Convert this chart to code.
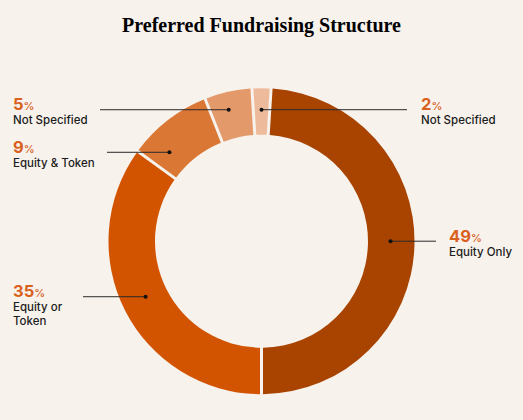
<html lang="en">
  <head>
    <meta charset="UTF-8" />
    <style>
      body {
        margin: 0;
        background-color: #f7f2ec;
      }
      svg {
        display: block;
      }
      .title {
        font-family: "Liberation Serif", serif;
        font-weight: bold;
      }
      .pct {
        font-family: Inter, sans-serif;
        font-weight: 700;
        fill: #d9601d;
      }
      .lbl {
        font-family: Inter, sans-serif;
        font-weight: 500;
        fill: #1c1c1c;
      }
    </style>
    <title>Preferred Fundraising Structure</title>
  </head>
  <body>
    <script src="https://cdn.jsdelivr.net/npm/d3@7"></script>
    <script>
      // data, in the order drawn clockwise from the top
      const categories = ["Not Specified", "Equity Only", "Equity or Token", "Equity & Token", "Not Specified"];
      const values = [2, 49, 35, 9, 5];
      const labelLines = [["Not Specified"], ["Equity Only"], ["Equity or", "Token"], ["Equity & Token"], ["Not Specified"]];
      const colors = ["#edbb9b", "#a84300", "#d35400", "#db7734", "#e4996a"];

      // annotation layout
      const labelX = [421, 449, 13, 13, 13];
      const lineEndX = [407, 436, 83, 107, 100];
      const dotNudgeDeg = [0, -1.8, 1.4, -8.2, -1.4];
      const dotNudgeR = [1.5, -1, -1.5, -2, 5.5];

      const width = 523;
      const height = 420;
      const cx = 261.5;
      const cy = 241.2;
      const outerR = 153;
      const innerR = 106.5;
      const dotR = 130;

      const total = d3.sum(values);
      const start = -Math.PI * values[0] / total;

      const pie = d3
        .pie()
        .sort(null)
        .value(d => d)
        .startAngle(start)
        .endAngle(start + 2 * Math.PI);

      const arc = d3
        .arc()
        .innerRadius(innerR)
        .outerRadius(outerR)
        .padAngle(0.02)
        .padRadius(150);

      const svg = d3
        .select("body")
        .append("svg")
        .attr("width", width)
        .attr("height", height);

      svg
        .append("rect")
        .attr("width", width)
        .attr("height", height)
        .attr("fill", "#f7f2ec");

      svg
        .append("text")
        .attr("class", "title")
        .attr("x", width / 2)
        .attr("y", 32)
        .attr("text-anchor", "middle")
        .style("font-size", "20px")
        .text("Preferred Fundraising Structure");

      const g = svg.append("g").attr("transform", "translate(" + cx + "," + cy + ")");

      const arcs = pie(values);

      g.selectAll("path")
        .data(arcs)
        .enter()
        .append("path")
        .attr("d", arc)
        .attr("fill", (d, i) => colors[i]);

      const notes = svg.append("g");

      arcs.forEach((d, i) => {
        const a = (d.startAngle + d.endAngle) / 2 + (dotNudgeDeg[i] * Math.PI) / 180;
        const p = d3.pointRadial(a, dotR + dotNudgeR[i]);
        const x = cx + p[0];
        const y = cy + p[1];

        notes
          .append("line")
          .attr("x1", x)
          .attr("y1", y)
          .attr("x2", lineEndX[i])
          .attr("y2", y)
          .attr("stroke", "#2a2a2a")
          .attr("stroke-width", 1);

        notes
          .append("circle")
          .attr("cx", x)
          .attr("cy", y)
          .attr("r", 2)
          .attr("fill", "#111");

        const t = notes
          .append("text")
          .attr("class", "pct")
          .attr("x", labelX[i])
          .attr("y", y + 0.5);
        t.append("tspan").style("font-size", "16.5px").text(values[i]);
        t.append("tspan").style("font-size", "11px").style("font-weight", 500).text("%");

        labelLines[i].forEach((s, j) => {
          notes
            .append("text")
            .attr("class", "lbl")
            .attr("x", labelX[i])
            .attr("y", y + 14.5 + j * 14)
            .style("font-size", "11.5px")
            .text(s);
        });
      });
    </script>
  </body>
</html>
